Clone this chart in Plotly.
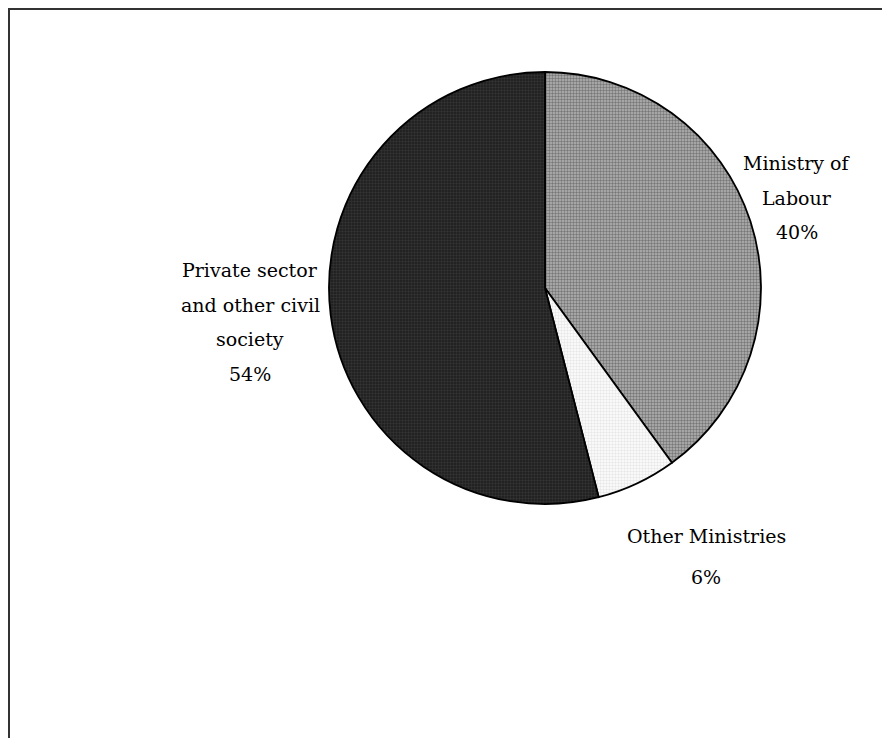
import plotly.graph_objects as go

# page body has an 8px margin, so the figure is drawn 8px in from the window corner
OFF = 8
W, H = 890 - OFF, 738 - OFF

labels = ["Ministry of Labour", "Other Ministries", "Private sector and other civil society"]
label_lines = [["Ministry of", "Labour"], ["Other Ministries"], ["Private sector", "and other civil", "society"]]
values = [40, 6, 54]
pct_text = ["40%", "6%", "54%"]


def px(x):
    return (x - OFF) / W


def py(y):
    return 1 - (y - OFF) / H


fig = go.Figure()
fig.add_trace(go.Pie(
    labels=labels,
    values=values,
    sort=False,
    direction="clockwise",
    rotation=0,
    textinfo="none",
    hoverinfo="label+percent",
    showlegend=False,
    domain=dict(x=[px(329), px(761)], y=[py(504), py(72)]),
    marker=dict(
        colors=["#9a9a9a", "#f6f6f6", "#262626"],
        line=dict(color="black", width=1.8),
        pattern=dict(
            shape=[".", ".", "."],
            fillmode="overlay",
            bgcolor=["#b4b4b4", "#ffffff", "#1c1c1c"],
            fgcolor=["#3a3a3a", "#d0d0d0", "#4a4a4a"],
            size=3,
            solidity=0.5,
        ),
    ),
))

# label anchor centers (target pixel coords) and line spacing
anchors = [(797, 163), (706, 536), (250, 270)]
spacings = [34.5, 41, 34.5]

ann = []
for i in range(len(labels)):
    lines = label_lines[i] + [pct_text[i]]
    cx, cy = anchors[i]
    for j, t in enumerate(lines):
        ann.append(dict(
            x=px(cx), y=py(cy + j * spacings[i]), xref="paper", yref="paper",
            text=t, showarrow=False, xanchor="center", yanchor="middle",
            font=dict(family="DejaVu Serif", size=19, color="black"),
        ))

shapes = [
    dict(type="line", xref="paper", yref="paper", x0=0, x1=1, y0=py(9), y1=py(9),
         line=dict(color="#333333", width=2)),
    dict(type="line", xref="paper", yref="paper", x0=px(9), x1=px(9), y0=py(9), y1=0,
         line=dict(color="#333333", width=2)),
]

fig.update_layout(
    width=W, height=H,
    margin=dict(l=0, r=0, t=0, b=0),
    paper_bgcolor="white",
    plot_bgcolor="white",
    annotations=ann,
    shapes=shapes,
)

fig.write_html("out.html")
